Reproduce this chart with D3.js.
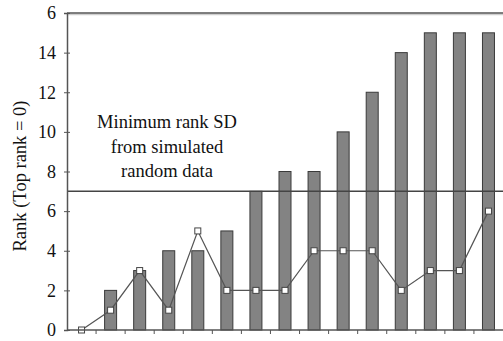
<!DOCTYPE html>
<html>
<head>
<meta charset="utf-8">
<script src="https://cdn.jsdelivr.net/npm/d3@7"></script>
<style>
body { margin: 0; background: #fff; }
</style>
</head>
<body>
<svg id="chart"></svg>
<script>
/* data */
var categories = d3.range(15)
var barValues = [0, 2, 3, 4, 4, 5, 7, 8, 8, 10, 12, 14, 15, 15, 15]
var lineValues = [0, 1, 3, 1, 5, 2, 2, 2, 4, 4, 4, 2, 3, 3, 6]
var yTicks = [0, 2, 4, 6, 8, 10, 12, 14, 16]
var yTickLabels = ["0", "2", "4", "6", "8", "10", "12", "14", "6"]
var thresholdValue = 7
var noteLines = ["Minimum rank SD", "from simulated", "random data"]
var yTitle = "Rank (Top rank = 0)"

var width = 503
var height = 341
var margin = {left: 67, right: 0, top: 13, bottom: 11}
var serif = "'Liberation Serif', 'Times New Roman', serif"

var svg = d3.select("#chart")
    .attr("width", width)
    .attr("height", height)

var x = d3.scaleBand()
    .domain(categories)
    .range([margin.left, width - margin.right])

var y = d3.scaleLinear()
    .domain([0, 16])
    .range([height - margin.bottom, margin.top])

/* bars */
svg.append("g")
    .selectAll("rect")
    .data(barValues)
    .enter()
    .append("rect")
    .attr("x", function(d, i) { return x(i) + x.bandwidth() / 2 - 6 })
    .attr("y", function(d) { return y(d) })
    .attr("width", 12)
    .attr("height", function(d) { return y(0) - y(d) })
    .attr("fill", "#838383")
    .attr("stroke", "#3a3a3a")
    .attr("stroke-width", 1)

/* top frame line */
svg.append("line")
    .attr("x1", margin.left).attr("x2", width)
    .attr("y1", y(16) + 1.5).attr("y2", y(16) + 1.5)
    .attr("stroke", "#cfcfcf").attr("stroke-width", 1.5)
svg.append("line")
    .attr("x1", margin.left).attr("x2", width)
    .attr("y1", y(16)).attr("y2", y(16))
    .attr("stroke", "#555").attr("stroke-width", 1.5)

/* threshold line */
svg.append("line")
    .attr("x1", margin.left).attr("x2", width)
    .attr("y1", y(thresholdValue)).attr("y2", y(thresholdValue))
    .attr("stroke", "#444").attr("stroke-width", 1.5)

/* line series */
var line = d3.line()
    .x(function(d, i) { return x(i) + x.bandwidth() / 2 })
    .y(function(d) { return y(d) })

svg.append("path")
    .datum(lineValues)
    .attr("d", line)
    .attr("fill", "none")
    .attr("stroke", "#555")
    .attr("stroke-width", 1.2)

svg.append("g")
    .selectAll("rect")
    .data(lineValues)
    .enter()
    .append("rect")
    .attr("x", function(d, i) { return x(i) + x.bandwidth() / 2 - 3 })
    .attr("y", function(d) { return y(d) - 3 })
    .attr("width", 6)
    .attr("height", 6)
    .attr("fill", "#fff")
    .attr("stroke", "#444")
    .attr("stroke-width", 1)

/* y axis */
var yAxis = svg.append("g")
    .attr("transform", "translate(" + margin.left + ",0)")
    .call(d3.axisLeft(y)
        .tickValues(yTicks)
        .tickSize(3)
        .tickPadding(8)
        .tickFormat(function(d, i) { return yTickLabels[i] }))
yAxis.attr("font-family", null).attr("font-size", null)
yAxis.select(".domain").attr("stroke", "#555").attr("stroke-width", 1.5)
yAxis.selectAll(".tick line").attr("x2", 3).attr("x1", -3).attr("stroke", "#555")
yAxis.selectAll("text")
    .style("font-family", serif)
    .style("font-size", "18px")
    .attr("fill", "#111")

/* x axis, ticks between categories */
var xAxis = svg.append("g")
    .attr("transform", "translate(0," + y(0) + ")")
xAxis.append("line")
    .attr("x1", margin.left).attr("x2", width)
    .attr("stroke", "#555").attr("stroke-width", 1.5)
xAxis.selectAll(".xt")
    .data(categories.slice(1))
    .enter()
    .append("line")
    .attr("class", "xt")
    .attr("x1", function(d) { return x(d) }).attr("x2", function(d) { return x(d) })
    .attr("y1", 0).attr("y2", 4)
    .attr("stroke", "#555")

/* annotation */
svg.append("g")
    .selectAll("text")
    .data(noteLines)
    .enter()
    .append("text")
    .attr("x", 167)
    .attr("y", function(d, i) { return 128 + i * 24.5 })
    .attr("text-anchor", "middle")
    .style("font-family", serif)
    .style("font-size", "18.5px")
    .attr("fill", "#111")
    .text(function(d) { return d })

/* y title */
svg.append("text")
    .attr("transform", "translate(26,176) rotate(-90)")
    .attr("text-anchor", "middle")
    .style("font-family", serif)
    .style("font-size", "18.5px")
    .attr("fill", "#111")
    .text(yTitle)
</script>
</body>
</html>
